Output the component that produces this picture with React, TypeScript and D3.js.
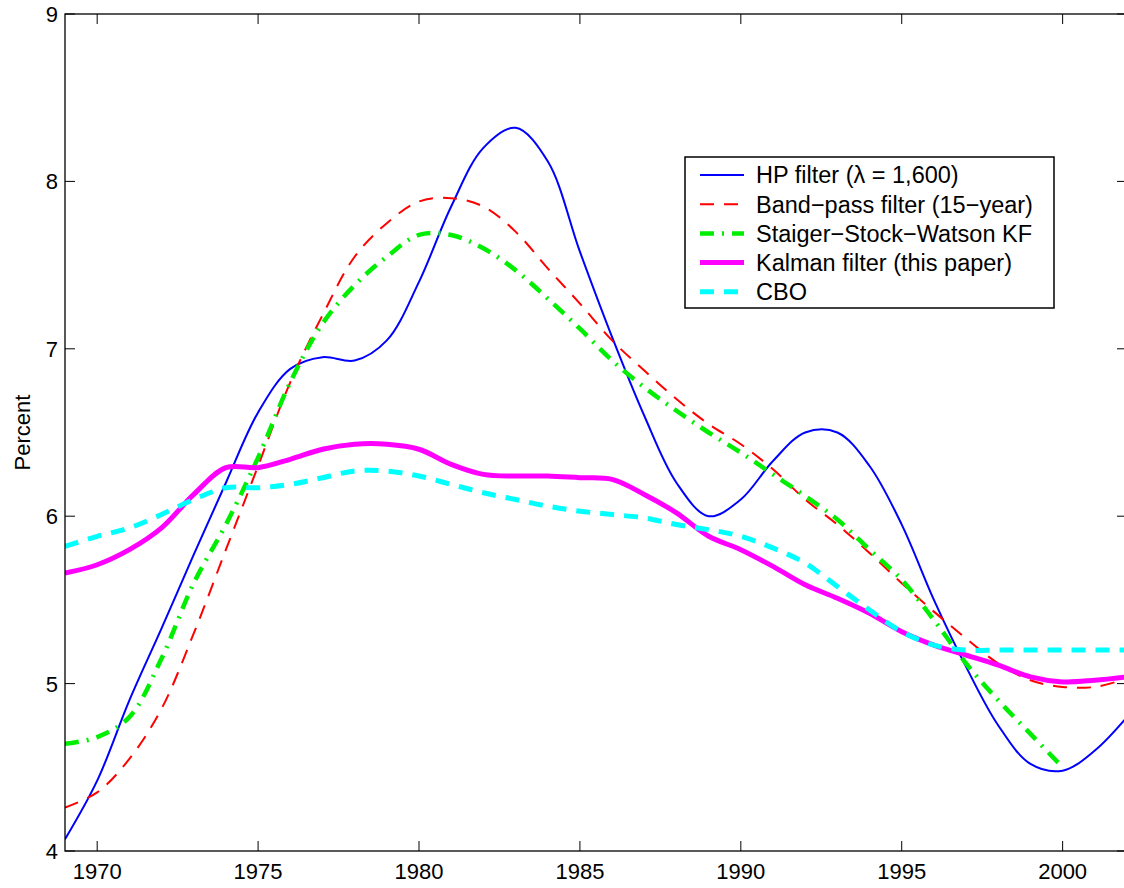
import React, { useEffect, useRef } from "react";
import * as d3 from "d3";

const years = d3.range(1969, 2003);

const hpFilter = [
  4.07, 4.42, 4.9, 5.33, 5.77, 6.2, 6.62, 6.88, 6.95, 6.93, 7.05, 7.4, 7.85,
  8.2, 8.32, 8.12, 7.58, 7.07, 6.6, 6.2, 6.0, 6.1, 6.33, 6.5, 6.5, 6.3, 5.95,
  5.5, 5.1, 4.75, 4.52, 4.48, 4.6, 4.8,
];

const bandPass = [
  4.26, 4.35, 4.55, 4.85, 5.3, 5.8, 6.3, 6.8, 7.2, 7.55, 7.75, 7.88, 7.9,
  7.85, 7.7, 7.48, 7.27, 7.05, 6.87, 6.7, 6.55, 6.43, 6.28, 6.1, 5.95, 5.78,
  5.6, 5.43, 5.27, 5.12, 5.02, 4.98, 4.98, 5.03,
];

// SSW series stops in 2000
const sswKF = [
  4.64, 4.68, 4.8, 5.15, 5.6, 5.95, 6.35, 6.8, 7.15, 7.38, 7.55, 7.68, 7.68,
  7.6, 7.47, 7.3, 7.12, 6.93, 6.77, 6.63, 6.5, 6.38, 6.25, 6.12, 5.98, 5.8,
  5.62, 5.38, 5.12, 4.9, 4.7, 4.5,
];

const kalman = [
  5.66, 5.71, 5.8, 5.93, 6.13, 6.29, 6.29, 6.34, 6.4, 6.43, 6.43, 6.4, 6.31,
  6.25, 6.24, 6.24, 6.23, 6.22, 6.13, 6.02, 5.88, 5.8, 5.7, 5.59, 5.51, 5.42,
  5.31, 5.23, 5.17, 5.11, 5.04, 5.01, 5.02, 5.04,
];

const cbo = [
  5.82, 5.88, 5.93, 6.01, 6.1, 6.17, 6.17, 6.19, 6.23, 6.27, 6.27, 6.24, 6.19,
  6.14, 6.1, 6.06, 6.03, 6.01, 5.99, 5.95, 5.92, 5.88, 5.81, 5.72, 5.58, 5.44,
  5.31, 5.23, 5.2, 5.2, 5.2, 5.2, 5.2, 5.2,
];

const xTicks = [1970, 1975, 1980, 1985, 1990, 1995, 2000];
const yTicks = [4, 5, 6, 7, 8, 9];

const seriesList = [
  { name: "HP filter (\u03bb = 1,600)", values: hpFilter, color: "#0000ff", width: 2, dash: null },
  { name: "Band\u2212pass filter (15\u2212year)", values: bandPass, color: "#ff0000", width: 2, dash: "14,10" },
  { name: "Staiger\u2212Stock\u2212Watson KF", values: sswKF, color: "#00ee00", width: 4.5, dash: "14,8,2,8" },
  { name: "Kalman filter (this paper)", values: kalman, color: "#ff00ff", width: 5, dash: null },
  { name: "CBO", values: cbo, color: "#00ffff", width: 5, dash: "14,10" },
];

const App = () => {
  const ref = useRef(null);

  useEffect(() => {
    const root = d3.select(ref.current);
    root.selectAll("*").remove();

    const W = 1124,
      H = 888;
    const left = 65,
      right = 1127,
      top = 14,
      bottom = 851;

    const svg = root
      .append("svg")
      .attr("width", W)
      .attr("height", H)
      .style("position", "absolute")
      .style("left", 0)
      .style("top", 0)
      .style("background", "#fff")
      .style("font-family", "'Liberation Sans', Arial, Helvetica, sans-serif");

    const x = d3.scaleLinear().domain([1969, 2002]).range([left, right]);
    const y = d3.scaleLinear().domain([4, 9]).range([bottom, top]);

    svg
      .append("defs")
      .append("clipPath")
      .attr("id", "plotclip")
      .append("rect")
      .attr("x", left)
      .attr("y", top)
      .attr("width", right - left)
      .attr("height", bottom - top);

    const line = d3
      .line()
      .x((d) => x(d[0]))
      .y((d) => y(d[1]))
      .curve(d3.curveCatmullRom.alpha(0.5));

    const plot = svg.append("g").attr("clip-path", "url(#plotclip)");

    seriesList.forEach((s) => {
      const pts = s.values.map((v, i) => [years[i], v]);
      plot
        .append("path")
        .attr("d", line(pts))
        .attr("fill", "none")
        .attr("stroke", s.color)
        .attr("stroke-width", s.width)
        .attr("stroke-dasharray", s.dash)
        .attr("stroke-linejoin", "round");
    });

    // axes box with inward ticks
    const axes = svg.append("g");
    axes
      .append("rect")
      .attr("x", left)
      .attr("y", top)
      .attr("width", right - left)
      .attr("height", bottom - top)
      .attr("fill", "none")
      .attr("stroke", "#000")
      .attr("stroke-width", 1.3);

    const tickLen = 10;
    xTicks.forEach((t) => {
      axes
        .append("line")
        .attr("x1", x(t))
        .attr("x2", x(t))
        .attr("y1", bottom)
        .attr("y2", bottom - tickLen)
        .attr("stroke", "#000")
        .attr("stroke-width", 1);
      axes
        .append("line")
        .attr("x1", x(t))
        .attr("x2", x(t))
        .attr("y1", top)
        .attr("y2", top + tickLen)
        .attr("stroke", "#000")
        .attr("stroke-width", 1);
      axes
        .append("text")
        .attr("x", x(t))
        .attr("y", 879)
        .attr("text-anchor", "middle")
        .attr("font-size", 22)
        .text(t);
    });

    yTicks.forEach((t) => {
      axes
        .append("line")
        .attr("x1", left)
        .attr("x2", left + tickLen)
        .attr("y1", y(t))
        .attr("y2", y(t))
        .attr("stroke", "#000")
        .attr("stroke-width", 1);
      axes
        .append("line")
        .attr("x1", right)
        .attr("x2", right - tickLen)
        .attr("y1", y(t))
        .attr("y2", y(t))
        .attr("stroke", "#000")
        .attr("stroke-width", 1);
      axes
        .append("text")
        .attr("x", 58)
        .attr("y", y(t))
        .attr("dy", "0.36em")
        .attr("text-anchor", "end")
        .attr("font-size", 22)
        .text(t);
    });

    svg
      .append("text")
      .attr("transform", "translate(30," + (top + bottom) / 2 + ") rotate(-90)")
      .attr("text-anchor", "middle")
      .attr("font-size", 22)
      .text("Percent");

    // legend
    const lg = svg.append("g");
    lg.append("rect")
      .attr("x", 685)
      .attr("y", 157)
      .attr("width", 369)
      .attr("height", 151)
      .attr("fill", "#fff")
      .attr("stroke", "#000")
      .attr("stroke-width", 1.5);

    seriesList.forEach((s, i) => {
      const ly = 175 + i * 29.2;
      lg.append("line")
        .attr("x1", 700)
        .attr("x2", 744)
        .attr("y1", ly)
        .attr("y2", ly)
        .attr("stroke", s.color)
        .attr("stroke-width", s.width)
        .attr("stroke-dasharray", s.dash);
      lg.append("text")
        .attr("x", 756)
        .attr("y", ly)
        .attr("dy", "0.36em")
        .attr("font-size", 23.5)
        .text(s.name);
    });
  }, []);

  return <div ref={ref}></div>;
};

export default App;
